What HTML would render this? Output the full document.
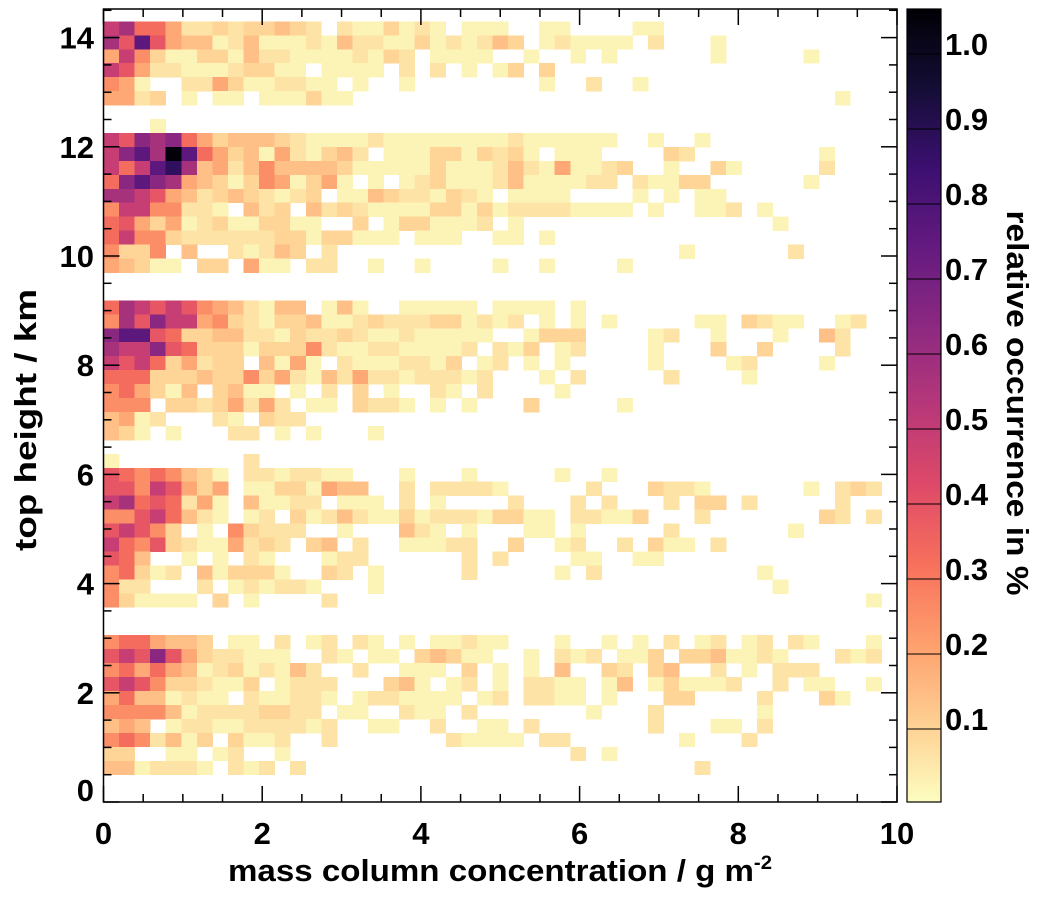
<!DOCTYPE html>
<html><head><meta charset="utf-8"><style>
html,body{margin:0;padding:0;background:#fff;}
svg{display:block;font-family:"Liberation Sans",Arial,sans-serif;font-weight:bold;}
</style></head><body>
<svg id="chart" width="1038" height="897" viewBox="0 0 1038 897" xmlns="http://www.w3.org/2000/svg">
<defs><linearGradient id="cbgrad" x1="0" y1="1" x2="0" y2="0"></linearGradient></defs>
<g id="cells" shape-rendering="crispEdges"></g>
<g id="axes"></g>
<g id="cbar"></g>
<text x="228" y="881" font-size="31" textLength="544" lengthAdjust="spacingAndGlyphs">mass column concentration / g m<tspan font-size="19" dy="-12">-2</tspan></text>
<text transform="translate(36,420) rotate(-90)" text-anchor="middle" font-size="31" textLength="262" lengthAdjust="spacingAndGlyphs">top height / km</text>
<text transform="translate(1007,403) rotate(90)" text-anchor="middle" font-size="31" textLength="385" lengthAdjust="spacingAndGlyphs">relative occurrence in %</text>
</svg>
<script>
const rows = [
"9a775223233432."+"2113121.111..11.."+"..11..............",
"a8c854412411121"+"422113121243.1211"+"11.2...1..........",
"596311331422111"+"12132.1111..1..1."+"1......1.....1....",
"9852211123311.1"+"111.2.2.1.13.3..."+"..................",
"651..2253112211"+".1..1........1..2"+"..1...............",
"5523.1.11.11131"+"1................"+"...............1..",
"..............."+"................."+"..................",
"...1..........."+"................."+"..................",
"98bab7534443211"+"11211111111211111"+"1..1..1...........",
"9bcaec753415213"+"42.1113313231.111"+"....32........1...",
"979cda452464444"+"31111131112421511"+"23..1..31.....2...",
"7bcba5431365135"+"1.1.1231112411112"+"2.21133......1....",
"aa985423432123."+"1143221321.1111.."+"..1.1.11..........",
"69966221.423.42"+"32111133131222211"+"11.1..112.1.......",
"78535123113311."+".3.1331112.1....."+"...........1......",
"796632222223313"+"3111.111..11.1..."+"..................",
"6336.4..21243.2"+"................."+".....1......2.....",
"54311.33.511.22"+"..1..1....1..1..."+".1................",
"..............."+"................."+"..................",
"..............."+"................."+"..................",
"7a98986542144.1"+"41..11111.1111.1."+"..................",
"6a8b99563213341"+"123222331212.1.1."+"1.....11.3211..12.",
"bcc873344221322"+"3211211111..1333."+"...12..1...1..42..",
"a99b87333133362"+"112211112.213.12."+"...1...3..3....2..",
"989735233.4151."+"21112213.12.1.1.."+"...1....12....1...",
"777333433635214"+"2522122212...1.2."+"....2....1........",
"675314.3411.1.2"+".3.1..21.2....1.."+"..................",
"666.33235252.11"+".3221.1.1...3...."+".1................",
"4512...21.322.."+"................."+"..................",
"431.1...22.1.1."+"..1.............."+"..................",
"..............."+"................."+"..................",
"1........2....."+"................."+"..................",
"87676431.221221"+"1...1...1.....1.."+"1.................",
"88698535.113315"+"44..2.22221.....2"+"...3221......1.232",
"9a787251.41122."+"111.2.1....2...2."+"2...2.33.2.....2..",
"66897421.12.312"+"42113122213311.22"+"113...2.......32.2",
"89863.1.63222.."+"1...421.1...11.1."+"....2.......1.....",
"976832115232.34"+".2..11122..3..12."+".2.311.2..........",
"874..1.1.21...1"+"22......2.2....11"+"..11..............",
"67312.413331..3"+"2.1.....2.....1.2"+"..........1.......",
"622...2.121221."+"..1.............."+"...........1......",
"631111.3.1....2"+"................."+".................1",
"..............."+"................."+"..................",
"..............."+"................."+"..................",
"6775443.11.2.12"+".21.1.11211...1.."+"1.1.2.12.12.21...1",
"898b85322111..2"+"1.11.34311..1.212"+".113.3341121...212",
"67575412312142."+".2..111.3.1.1.4.."+"32.34..2.1.222....",
"8986332113.1222"+"...341.12.1.2211."+"14.131112..2.11..1",
"57441211.211221"+".1221111.12.2211."+"1...33....2...31..",
"66664122223322."+"11..211.2.......1"+"...2......1.......",
"454.12211222212"+"..11..2..11.2...."+"...2...11.2.......",
"6762413.3112..2"+".......21111.22.."+".....1...2........",
"33..11.12..1..."+"...............2."+"1.................",
"4412221.212.2.."+"................."+"......2..........."
];
const levelKeys = ["1","2","3","4","5","6","7","8","9","a","b","c","d","e"];
const levelValues = [0.02,0.06,0.095,0.14,0.19,0.25,0.33,0.39,0.49,0.57,0.64,0.76,0.88,1.05];
const xTicks = [0,2,4,6,8,10];
const yTicks = [0,2,4,6,8,10,12,14];
const cbTicks = [0.1,0.2,0.3,0.4,0.5,0.6,0.7,0.8,0.9,1.0];
const cbTickLabels = ["0.1","0.2","0.3","0.4","0.5","0.6","0.7","0.8","0.9","1.0"];
const xBinWidth = 10/51, yBinBottom = 0.5, yBinHeight = 0.2555;

const NS = "http://www.w3.org/2000/svg";
const L = 103.5, R = 897, T = 9, B = 802;
const xScale = v => L + v*(R-L)/10;
const yScale = v => B - v*54.6;
const cbTop = 9, cbBot = 802, cbL = 907, cbR = 941, cbMax = 1.06;
const cbScale = v => 804 - v*750;
const magma = ["#000004","#140e36","#3b0f70","#641a80","#8c2981","#b73779","#de4968","#f7705c","#fe9f6d","#fecf92","#fcfdbf"];
function hx(h){return [1,3,5].map(i=>parseInt(h.substr(i,2),16));}
function colorOf(v){
  let t = 1 - Math.min(Math.max(v/cbMax,0),1);
  let p = t*10, i = Math.min(Math.floor(p),9), f = p-i;
  let a = hx(magma[i]), b = hx(magma[i+1]);
  return "rgb("+a.map((c,k)=>Math.round(c+(b[k]-c)*f)).join(",")+")";
}
function el(tag, attrs, parent){
  const e = document.createElementNS(NS, tag);
  for (const k in attrs) e.setAttribute(k, attrs[k]);
  parent.appendChild(e); return e;
}
const cells = document.getElementById("cells");
const nRows = rows.length;
rows.forEach((row, r) => {
  for (let c = 0; c < row.length && c < 51; c++) {
    const idx = levelKeys.indexOf(row[c]);
    if (idx < 0) continue;
    const v = levelValues[idx];
    const x0 = xScale(c*xBinWidth), x1 = xScale((c+1)*xBinWidth);
    const yb = yBinBottom + (nRows-1-r)*yBinHeight;
    const y1 = yScale(yb), y0 = yScale(yb+yBinHeight);
    const rect = el("rect", {x:x0.toFixed(2), y:y0.toFixed(2), width:(x1-x0+0.4).toFixed(2), height:(y1-y0+0.4).toFixed(2), fill:colorOf(v)}, cells);
    
    
  }
});
const axes = document.getElementById("axes");
const frame = el("rect", {x:L, y:T, width:R-L, height:B-T, fill:"none", stroke:"#000", "stroke-width":1.5}, axes);


for (let v = 0; v <= 10.001; v += 0.5) {
  const x = xScale(v), major = Math.abs(v/2 - Math.round(v/2)) < 1e-6, len = major ? 16 : 8;
  el("line", {x1:x, x2:x, y1:B, y2:B-len, stroke:"#000", "stroke-width":1.5}, axes);
  el("line", {x1:x, x2:x, y1:T, y2:T+len, stroke:"#000", "stroke-width":1.5}, axes);
}
for (let v = 0; v <= 14.501; v += 0.5) {
  const y = yScale(v), major = Math.abs(v/2 - Math.round(v/2)) < 1e-6, len = major ? 16 : 8;
  el("line", {x1:L, x2:L+len, y1:y, y2:y, stroke:"#000", "stroke-width":1.5}, axes);
  el("line", {x1:R, x2:R-len, y1:y, y2:y, stroke:"#000", "stroke-width":1.5}, axes);
}
xTicks.forEach(v => {
  const t = el("text", {x:xScale(v), y:844, "text-anchor":"middle", "font-size":31}, axes);
  t.textContent = String(v);
  
  
});
yTicks.forEach(v => {
  const off = v === 0 ? -12 : 0;
  const t = el("text", {x:94, y:yScale(v)+11+off, "text-anchor":"end", "font-size":31}, axes);
  t.textContent = String(v);
  
  
});
const grad = document.getElementById("cbgrad");
for (let i = 0; i <= 40; i++) {
  const v = i/40*cbMax;
  el("stop", {offset:(i/40), "stop-color":colorOf(v)}, grad);
}
const cb = document.getElementById("cbar");
const cbRect = el("rect", {x:cbL, y:cbTop, width:cbR-cbL, height:cbBot-cbTop, fill:"url(#cbgrad)", stroke:"#000", "stroke-width":1.2}, cb);


cbTicks.forEach((v, i) => {
  const y = cbScale(v);
  el("line", {x1:cbL, x2:cbR, y1:y, y2:y, stroke:"#000", "stroke-width":1}, cb);
  const t = el("text", {x:945, y:y+1, "font-size":31}, cb);
  t.textContent = cbTickLabels[i];
  
  
});
</script>
</body></html>
